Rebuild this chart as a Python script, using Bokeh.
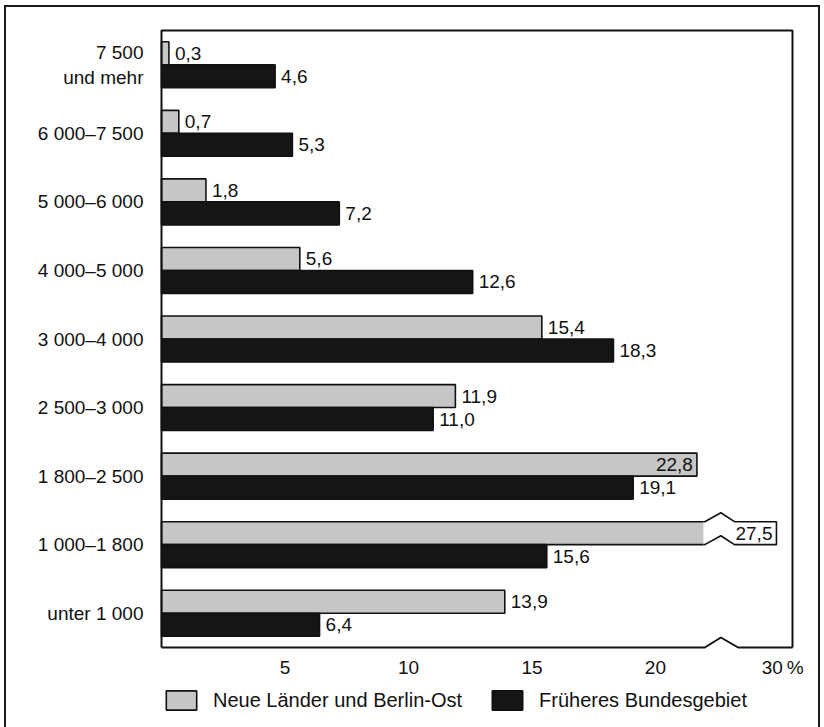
from bokeh.plotting import figure
from bokeh.layouts import column
from bokeh.models import (Range1d, FixedTicker, Legend, LegendItem,
                          ColumnDataSource, InlineStyleSheet)
from bokeh.core.properties import value
from bokeh.embed import file_html
from bokeh.resources import INLINE

# Haushalte nach monatlichem Nettoeinkommen (DM), Anteil in %
categories = ["7 500\nund mehr", "6 000–7 500", "5 000–6 000", "4 000–5 000",
              "3 000–4 000", "2 500–3 000", "1 800–2 500", "1 000–1 800",
              "unter 1 000"]
ost = [0.3, 0.7, 1.8, 5.6, 15.4, 11.9, 22.8, 27.5, 13.9]
west = [4.6, 5.3, 7.2, 12.6, 18.3, 11.0, 19.1, 15.6, 6.4]
series_names = ["Neue Länder und Berlin-Ost", "Früheres Bundesgebiet"]
tick_values = [5, 10, 15, 20, 30]
tick_labels = ["5", "10", "15", "20", "30\u2009%"]

FONT = "Liberation Sans"
FS = "19px"
LIGHT = "#c6c6c6"
DARK = "#151515"
INK = "#111111"

# broken x axis: linear to 20, squeezed up to the break, compressed after it
BREAK_LO, BREAK_MID, BREAK_HI = 22.0, 22.65, 23.2
XMAX = 25.55
BOX_W = 1.7


def xpos(v):
    if v <= 20:
        return v
    if v <= 25:
        return 20 + (v - 20) * 0.6
    return BREAK_HI + (v - 25) * 0.39


n = len(categories)
ypos = [n - 1 - i for i in range(n)]
BAR_H = 0.335
OFF = BAR_H / 2

PAD_X = 2 / 24.7
PAD_Y = 2 / 68.6

p = figure(frame_width=635, frame_height=621,
           min_border_left=159, min_border_right=30,
           min_border_top=28, min_border_bottom=31,
           x_range=Range1d(-PAD_X, XMAX + PAD_X),
           y_range=Range1d(-0.5 - PAD_Y, n - 0.5 + PAD_Y),
           output_backend="svg", toolbar_location=None,
           background_fill_color="white", border_fill_color="white")
p.outline_line_color = None
p.grid.visible = False

bar_style = dict(line_color=INK, line_width=1.6)
fills = [LIGHT, DARK]

# bars
light_right = [min(xpos(v), BREAK_LO) for v in ost]
dark_right = [min(xpos(v), BREAK_LO) for v in west]
src_l = ColumnDataSource(dict(y=[y + OFF for y in ypos], right=light_right))
src_d = ColumnDataSource(dict(y=[y - OFF for y in ypos], right=dark_right))
p.hbar(y="y", left=0, right="right", height=BAR_H, source=src_l,
       fill_color=fills[0], **bar_style)
p.hbar(y="y", left=0, right="right", height=BAR_H, source=src_d,
       fill_color=fills[1], **bar_style)

# value labels
lab_x, lab_y, lab_t, lab_a, lab_o = [], [], [], [], []
for vals, dy in ((ost, OFF), (west, -OFF)):
    for v, y in zip(vals, ypos):
        xv = xpos(v)
        txt = f"{v:.1f}".replace(".", ",")
        if xv > BREAK_LO:
            # bar runs past the break: value sits in a box behind the break
            top, bot = y + dy + BAR_H / 2, y + dy - BAR_H / 2
            dz = 0.13
            p.patch([BREAK_LO - 0.06, BREAK_HI + BOX_W + 0.05, BREAK_HI + BOX_W + 0.05, BREAK_LO - 0.06],
                    [bot - 0.02, bot - 0.02, top + dz + 0.03, top + dz + 0.03],
                    fill_color="white", line_color=None)
            p.line([BREAK_LO - 0.06, BREAK_LO, BREAK_MID, BREAK_HI, BREAK_HI + BOX_W,
                    BREAK_HI + BOX_W, BREAK_HI, BREAK_MID, BREAK_LO, BREAK_LO - 0.06],
                   [top, top, top + dz, top, top, bot, bot, bot + dz, bot, bot],
                   line_color=INK, line_width=1.6)
            lab_x.append(BREAK_HI + BOX_W)
            lab_a.append("right")
            lab_o.append(-4)
        elif xv > BREAK_LO - 1.7:
            lab_x.append(xv)
            lab_a.append("right")
            lab_o.append(-4)
        else:
            lab_x.append(xv)
            lab_a.append("left")
            lab_o.append(6)
        lab_y.append(y + dy)
        lab_t.append(txt)

src_t = ColumnDataSource(dict(x=lab_x, y=lab_y, text=lab_t, align=lab_a, off=lab_o))
p.text(x="x", y="y", text="text", source=src_t, text_align="align",
       x_offset="off", text_baseline="middle", text_font=value(FONT),
       text_font_size=FS, text_color=INK)

# plot frame with the axis break on the bottom edge
y0, y1 = -0.5, n - 0.5
dzx = 0.146
p.multi_line(xs=[[0, 0, XMAX, XMAX],
                 [0, BREAK_LO, BREAK_MID, BREAK_HI + 0.15, XMAX]],
             ys=[[y0, y1, y1, y0],
                 [y0, y0, y0 + dzx, y0, y0]],
             line_color=INK, line_width=2)

# axes
p.xaxis.ticker = FixedTicker(ticks=[xpos(t) for t in tick_values])
p.xaxis.major_label_overrides = {xpos(t): lab for t, lab in zip(tick_values, tick_labels)}
p.yaxis.ticker = FixedTicker(ticks=ypos)
p.yaxis.major_label_overrides = {y: c for y, c in zip(ypos, categories)}
for ax in (p.xaxis, p.yaxis):
    ax.axis_line_color = None
    ax.major_tick_line_color = None
    ax.minor_tick_line_color = None
    ax.major_tick_out = 0
    ax.major_tick_in = 0
    ax.minor_tick_out = 0
    ax.minor_tick_in = 0
    ax.major_label_text_font = FONT
    ax.major_label_text_font_size = FS
    ax.major_label_text_color = INK
p.xaxis.major_label_standoff = 7
p.yaxis.major_label_standoff = 16

# legend strip underneath the chart (its frame lines up with the chart's)
q = figure(width=824, height=47, min_border=0,
           x_range=Range1d(0, 635), y_range=Range1d(0, 47),
           x_axis_location=None, y_axis_location=None,
           output_backend="svg", toolbar_location=None,
           background_fill_color="white", border_fill_color="white")
q.outline_line_color = None
q.grid.visible = False
# zero-width key bars below the strip's visible range, used only as legend keys
key_src = ColumnDataSource(dict(y=[-100.0], right=[0.0]))
keys = [q.hbar(y="y", left=0, right="right", height=1, source=key_src,
               fill_color=f, **bar_style) for f in fills]
legend = Legend(items=[LegendItem(label=name, renderers=[r])
                       for name, r in zip(series_names, keys)],
                location=(3, 15), orientation="horizontal",
                glyph_width=38, glyph_height=24, label_height=24,
                label_standoff=13, spacing=26, padding=0, margin=0,
                border_line_color=None, background_fill_alpha=0,
                label_text_font=FONT, label_text_font_size="20px",
                label_text_color=INK)
q.add_layout(legend, "center")

page = column(p, q, spacing=0)
# outer frame around the whole graphic
page.stylesheets = [InlineStyleSheet(css="""
:host { position: relative; }
:host::after {
  content: ""; position: absolute; left: 4px; top: 5px;
  width: 816px; height: 740px; box-sizing: border-box;
  border: 2px solid #1a1a1a; pointer-events: none;
}
""")]

open("out.html", "w").write(file_html(page, INLINE))
